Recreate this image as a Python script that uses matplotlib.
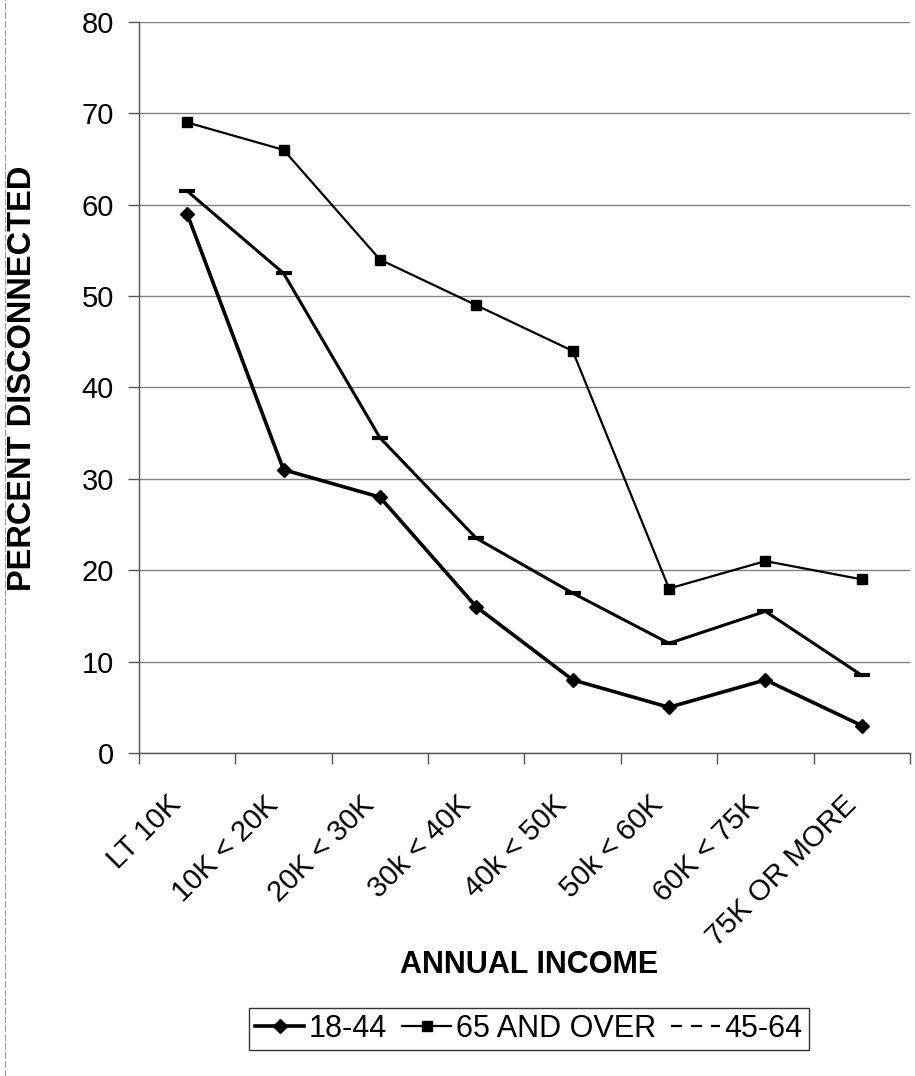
import matplotlib.pyplot as plt
import matplotlib.transforms as mtransforms
import numpy as np
from matplotlib.lines import Line2D

plt.rcParams['font.family'] = ['Liberation Sans', 'DejaVu Sans']

# %%
income = ["LT 10K", "10K < 20K", "20K < 30K", "30k < 40K",
          "40k < 50K", "50k < 60K", "60K < 75K", "75K OR MORE"]
age_18_44 = [59, 31, 28, 16, 8, 5, 8, 3]
age_65_over = [69, 66, 54, 49, 44, 18, 21, 19]
age_45_64 = [61.5, 52.5, 34.5, 23.5, 17.5, 12, 15.5, 8.5]

# %%
fig = plt.figure(figsize=(9.15, 10.76), dpi=100)
ax = fig.add_axes([0.1519, 0.3002, 0.8426, 0.6794])
x = np.arange(len(income))

ax.plot(x, age_18_44, color='black', lw=2.6, marker='D', ms=7.5, zorder=3)
ax.plot(x, age_65_over, color='black', lw=1.6, marker='s', ms=7.5, zorder=3)
ax.plot(x, age_45_64, color='black', lw=2.2, marker='_', ms=11, mew=3, zorder=3)

ax.set_xlim(-0.5, len(income) - 0.5)
ax.set_ylim(0, 80)
ax.set_yticks(np.arange(0, 81, 10))
ax.tick_params(axis='y', labelsize=21, length=8, width=1, color='#555555', pad=10)
ax.yaxis.grid(True, color='#808080', lw=1)
ax.set_axisbelow(True)

# category boundaries carry the ticks, labels sit in the middle
ax.set_xticks(np.arange(-0.5, len(income), 1))
ax.set_xticklabels([])
ax.set_xticks(x, minor=True)
ax.set_xticklabels(income, minor=True, rotation=45, ha='right', va='top',
                   rotation_mode='anchor', fontsize=21)
ax.tick_params(axis='x', which='major', length=8, width=1, color='#555555')
ax.tick_params(axis='x', which='minor', length=0, pad=27)
shift = mtransforms.ScaledTranslation(-0.2, 0, fig.dpi_scale_trans)
for lbl in ax.get_xticklabels(minor=True):
    lbl.set_transform(lbl.get_transform() + shift)

for side in ['top', 'right']:
    ax.spines[side].set_visible(False)
for side in ['left', 'bottom']:
    ax.spines[side].set_color('#555555')
    ax.spines[side].set_linewidth(1)

ax.set_ylabel("PERCENT DISCONNECTED", fontsize=23.5, fontweight='bold')
ax.yaxis.set_label_coords(-0.131, 0.512)
fig.text(0.578, 0.103, "ANNUAL INCOME", fontsize=22, fontweight='bold',
         ha='center', va='center')

handles = [
    Line2D([], [], color='black', lw=2.6, marker='D', ms=7.5),
    Line2D([], [], color='black', lw=1.6, marker='s', ms=7.5),
    Line2D([], [], color='black', lw=1.6, dashes=(5, 4)),
]
leg = fig.legend(handles, ["18-44", "65 AND OVER", "45-64"], ncol=3,
                 loc='center', bbox_to_anchor=(0.578, 0.0435), fontsize=22,
                 frameon=True, fancybox=False, edgecolor='black',
                 handlelength=1.6, handletextpad=0.15, columnspacing=0.5,
                 borderpad=0.2, borderaxespad=0)
leg.get_frame().set_linewidth(1)

# thin border at the left edge of the page
fig.add_artist(Line2D([0.006, 0.006], [0, 1], color='#999999', lw=0.8,
                      dashes=(6, 2), transform=fig.transFigure))

fig.savefig("out.png", dpi=100)
